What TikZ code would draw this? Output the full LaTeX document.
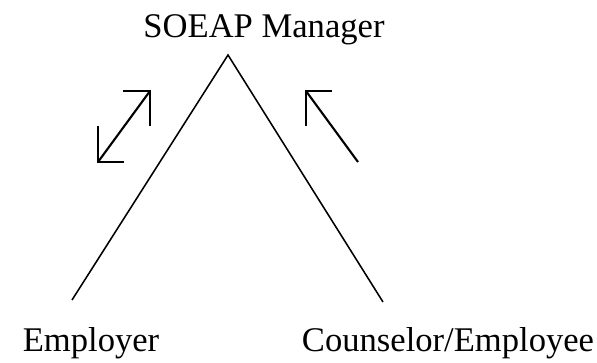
\documentclass[tikz,border=0pt]{standalone}
\usepackage{fontspec}
\setmainfont{Liberation Serif}
\usepackage{tikz}
\usetikzlibrary{positioning}

\begin{document}
\begin{tikzpicture}[
    x=0.025cm, y=-0.025cm,
    party/.style={font=\fontsize{24.6}{28}\selectfont, inner sep=0pt},
    leg/.style={line width=1.1pt},
    flowline/.style={line width=1.5pt},
]
\useasboundingbox (0,0) rectangle (597,362);

% ── parties ──
\node[party] (mgr) at (264,30) {SOEAP Manager};
\node[party] (emp) at (91,343) {Employer};
\node[party] (coun) at (448,343) {Counselor/Employee};

% ── triangle ──
\coordinate (apex) at (228,55);
\coordinate (lfoot) at (72,300);
\coordinate (rfoot) at (383,302);
\draw[leg] (lfoot) -- (apex) -- (rfoot);

% ── two-way arrow, employer side ──
\coordinate (ltip) at (150,91);
\coordinate (lbase) at (98,162);
\draw[flowline] (lbase) -- (ltip);
\draw[flowline] (ltip) ++(-27,0) -- (ltip) -- ++(0,35);
\draw[flowline] (lbase) ++(0,-36) -- (lbase) -- ++(26,0);

% ── one-way arrow, counselor side ──
\coordinate (rtip) at (306,91);
\coordinate (rtail) at (358,162);
\draw[flowline] (rtail) -- (rtip);
\draw[flowline] (rtip) ++(26,0) -- (rtip) -- ++(0,35);

\end{tikzpicture}
\end{document}
